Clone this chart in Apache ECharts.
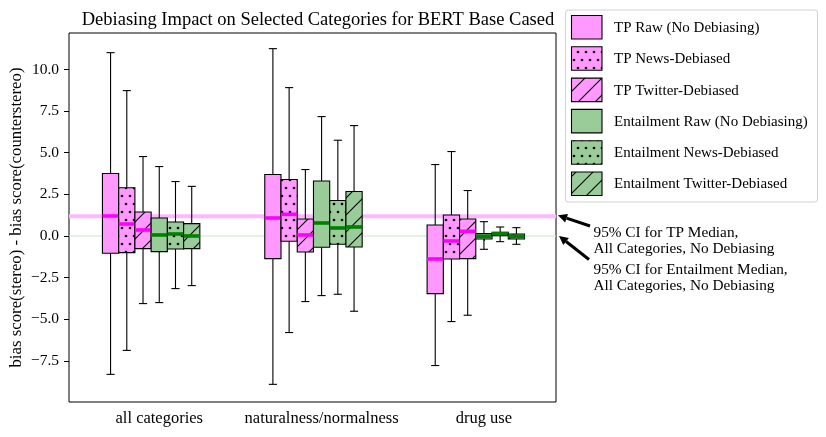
<!DOCTYPE html>
<html><head><meta charset="utf-8">
<script src="https://cdn.jsdelivr.net/npm/echarts@6/dist/echarts.min.js"></script>
<style>html,body{margin:0;padding:0;background:#fff}#c{width:826px;height:437px}</style>
</head><body><div id="c"></div>
<script>
// ---- data ----
const categories = ['all categories', 'naturalness/normalness', 'drug use'];
const seriesNames = ['TP Raw (No Debiasing)', 'TP News-Debiased', 'TP Twitter-Debiased',
  'Entailment Raw (No Debiasing)', 'Entailment News-Debiased', 'Entailment Twitter-Debiased'];
// each row: [whisker low, Q1, median, Q3, whisker high], one row per category
const tpRaw      = [[-8.31,-1.04, 1.20, 3.75,11.01], [-8.91,-1.36, 1.08, 3.69,11.25], [-7.78,-3.46,-1.38, 0.66, 4.29]];
const tpNews     = [[-6.87,-1.00, 0.72, 2.90, 8.73], [-5.80,-0.32, 1.30, 3.39, 8.91], [-5.14,-1.38,-0.30, 1.26, 5.07]];
const tpTwitter  = [[-4.06,-0.76, 0.36, 1.44, 4.77], [-3.94,-0.96, 0.06, 1.02, 3.99], [-4.76,-1.36, 0.28, 1.02, 2.73]];
const entRaw     = [[-4.00,-0.94, 0.06, 1.08, 4.17], [-3.58,-0.68, 0.78, 3.30, 7.17], [-0.80,-0.18,-0.02, 0.14, 0.86]];
const entNews    = [[-3.16,-0.78, 0.12, 0.84, 3.27], [-3.50,-0.50, 0.48, 2.13, 5.75], [-0.34, 0.02, 0.14, 0.22, 0.54]];
const entTwitter = [[-2.98,-0.76, 0.00, 0.74, 2.98], [-4.52,-0.66, 0.54, 2.67, 6.63], [-0.50,-0.18,-0.02, 0.12, 0.50]];
const ciTP  = [1.06, 1.30];   // 95% CI TP median, all categories, no debiasing
const ciEnt = [-0.03, 0.03];  // 95% CI Entailment median
const yTicks = [-7.5, -5, -2.5, 0, 2.5, 5, 7.5, 10];

// ---- styling ----
const allData = [tpRaw, tpNews, tpTwitter, entRaw, entNews, entTwitter];
const offsets = [-0.3, -0.2, -0.1, 0, 0.1, 0.2];
const boxWidth = 0.1;
const PINK = '#ff99ff', GREEN = '#99cc99';
const fills = [PINK, PINK, PINK, GREEN, GREEN, GREEN];
const hatches = ['none', 'dots', 'diag', 'none', 'dots', 'diag'];
const medColors = ['#ff00ff', '#ff00ff', '#ff00ff', '#008000', '#008000', '#008000'];
const FONT = '"Liberation Serif", "Times New Roman", serif';

function makeFill(bg, hatch) {
  if (hatch === 'none') return bg;
  const c = document.createElement('canvas');
  if (hatch === 'dots') {
    c.width = 8; c.height = 16;
    const g = c.getContext('2d');
    g.fillStyle = bg; g.fillRect(0, 0, 8, 16);
    g.fillStyle = '#000';
    [[2, 4], [6, 12]].forEach(p => { g.beginPath(); g.arc(p[0], p[1], 1.35, 0, Math.PI * 2); g.fill(); });
  } else {
    const s = 17;
    c.width = s; c.height = s;
    const g = c.getContext('2d');
    g.fillStyle = bg; g.fillRect(0, 0, s, s);
    g.strokeStyle = '#000'; g.lineWidth = 1.1;
    [-s, 0, s].forEach(k => { g.beginPath(); g.moveTo(k - 1, s + 1); g.lineTo(k + s + 1, -1); g.stroke(); });
  }
  return { image: c, repeat: 'repeat' };
}
const patterns = fills.map((f, i) => makeFill(f, hatches[i]));

function boxRenderer(s) {
  return function (params, api) {
    const x = api.value(0) + 1 + offsets[s];
    const lo = api.coord([x, api.value(1)]);
    const q1 = api.coord([x, api.value(2)]);
    const md = api.coord([x, api.value(3)]);
    const q3 = api.coord([x, api.value(4)]);
    const hi = api.coord([x, api.value(5)]);
    const w = api.size([boxWidth, 0])[0];
    const cx = lo[0];
    const capW = w * 0.5;
    const ls = { stroke: '#000', lineWidth: 1.1 };
    return {
      type: 'group',
      children: [
        { type: 'line', shape: { x1: cx, y1: q3[1], x2: cx, y2: hi[1] }, style: ls },
        { type: 'line', shape: { x1: cx, y1: q1[1], x2: cx, y2: lo[1] }, style: ls },
        { type: 'line', shape: { x1: cx - capW / 2, y1: hi[1], x2: cx + capW / 2, y2: hi[1] }, style: ls },
        { type: 'line', shape: { x1: cx - capW / 2, y1: lo[1], x2: cx + capW / 2, y2: lo[1] }, style: ls },
        { type: 'rect', shape: { x: cx - w / 2, y: q3[1], width: w, height: q1[1] - q3[1] },
          style: { fill: patterns[s], stroke: '#000', lineWidth: 1.1 } },
        { type: 'line', shape: { x1: cx - w / 2, y1: md[1], x2: cx + w / 2, y2: md[1] },
          style: { stroke: medColors[s], lineWidth: 3.6 } }
      ]
    };
  };
}

const chart = echarts.init(document.getElementById('c'), null, { renderer: 'canvas' });

const series = allData.map((arr, s) => ({
  type: 'custom',
  name: seriesNames[s],
  z: 3,
  clip: false,
  renderItem: boxRenderer(s),
  data: arr.map((v, i) => [i].concat(v)),
  encode: { x: 0, y: [1, 2, 3, 4, 5] }
}));

series.unshift({
  type: 'custom',
  name: 'ci',
  z: 1,
  renderItem: function (params, api) {
    const cs = params.coordSys;
    const top = api.coord([0, api.value(1)])[1];
    const bot = api.coord([0, api.value(0)])[1];
    return { type: 'rect', shape: { x: cs.x, y: top, width: cs.width, height: Math.max(bot - top, 1) },
      style: { fill: api.value(2) === 0 ? '#ffb8ff' : '#c9e4c9' } };
  },
  data: [[ciTP[0], ciTP[1], 0], [ciEnt[0], ciEnt[1], 1]],
  encode: { y: [0, 1] }
});

const legendGraphics = [];
const lx = 565.5, ly = 10, lw = 252, lh = 192;
legendGraphics.push({ type: 'rect', shape: { x: lx, y: ly, width: lw, height: lh, r: 3 },
  style: { fill: 'rgba(255,255,255,0.8)', stroke: '#d0d0d0', lineWidth: 1 }, z: 10 });
seriesNames.forEach((n, i) => {
  const yy = 15.5 + i * 31.3;
  legendGraphics.push({ type: 'rect', shape: { x: 571.5, y: yy, width: 30.5, height: 23.5 },
    style: { fill: patterns[i], stroke: '#000', lineWidth: 1.1 }, z: 11 });
  legendGraphics.push({ type: 'text', x: 614, y: yy + 12.5,
    style: { text: n, font: '15px ' + FONT, fill: '#000', textVerticalAlign: 'middle', verticalAlign: 'middle' }, z: 11 });
});

chart.setOption({
  animation: false,
  backgroundColor: '#fff',
  title: {
    text: 'Debiasing Impact on Selected Categories for BERT Base Cased',
    left: 313, textAlign: 'center', top: 6,
    textStyle: { fontFamily: FONT, fontSize: 18.5, fontWeight: 'normal', color: '#000' }
  },
  grid: { left: 69, right: 270, top: 33, bottom: 35, containLabel: false, outerBoundsMode: 'none',
    show: true, borderColor: '#000', borderWidth: 1, backgroundColor: 'transparent' },
  xAxis: {
    type: 'value', min: 0.444, max: 3.444,
    splitLine: { show: false },
    axisLine: { show: false },
    axisTick: { show: true, length: 5, inside: false, customValues: [1, 2, 3], lineStyle: { color: '#000' } },
    axisLabel: { customValues: [1, 2, 3], margin: 8, color: '#000', fontFamily: FONT, fontSize: 16.5,
      formatter: v => categories[Math.round(v) - 1] || '' }
  },
  yAxis: {
    type: 'value', min: -9.97, max: 12.19,
    name: 'bias score(stereo) - bias score(counterstereo)',
    nameLocation: 'middle', nameGap: 44, nameRotate: 90, nameMoveOverlap: false,
    nameTextStyle: { fontFamily: FONT, fontSize: 16.8, color: '#000' },
    splitLine: { show: false },
    axisLine: { show: false },
    axisTick: { show: true, length: 5, customValues: yTicks, lineStyle: { color: '#000' } },
    axisLabel: { customValues: yTicks, margin: 10, color: '#000', fontFamily: FONT, fontSize: 15.5,
      formatter: v => (v < 0 ? '\u2212' : '') + Math.abs(v).toFixed(1) }
  },
  series: series
});

// annotations (arrows point at the CI bands)
const yTPpx = chart.convertToPixel({ gridIndex: 0 }, [3.444, (ciTP[0] + ciTP[1]) / 2]);
const yEntpx = chart.convertToPixel({ gridIndex: 0 }, [3.444, (ciEnt[0] + ciEnt[1]) / 2]);
function arrow(tip, tail) {
  const dx = tip[0] - tail[0], dy = tip[1] - tail[1];
  const L = Math.sqrt(dx * dx + dy * dy), ux = dx / L, uy = dy / L;
  const hl = 9, hw = 4.5;
  const base = [tip[0] - ux * hl, tip[1] - uy * hl];
  return [
    { type: 'line', shape: { x1: tail[0], y1: tail[1], x2: base[0], y2: base[1] }, style: { stroke: '#000', lineWidth: 3 }, z: 12 },
    { type: 'polygon', shape: { points: [tip, [base[0] - uy * hw, base[1] + ux * hw], [base[0] + uy * hw, base[1] - ux * hw]] },
      style: { fill: '#000' }, z: 12 }
  ];
}
const tip1 = [yTPpx[0] + 2, yTPpx[1] - 1];
const tip2 = [yEntpx[0] + 3, yEntpx[1]];
const ann = [].concat(
  arrow(tip1, [590, 226]),
  arrow(tip2, [589, 259.5]),
  [
    { type: 'text', x: 593.5, y: 224.5, style: { text: '95% CI for TP Median,\nAll Categories, No Debiasing', font: '15.3px ' + FONT, fill: '#000', lineHeight: 16.5 }, z: 12 },
    { type: 'text', x: 593.5, y: 261.5, style: { text: '95% CI for Entailment Median,\nAll Categories, No Debiasing', font: '15.3px ' + FONT, fill: '#000', lineHeight: 16.5 }, z: 12 }
  ]
);
chart.setOption({ graphic: { elements: legendGraphics.concat(ann) } });
</script>
</body></html>
